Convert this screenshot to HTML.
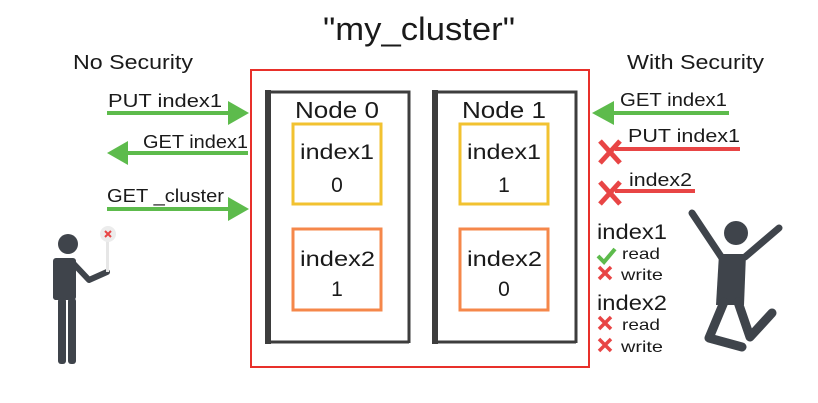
<!DOCTYPE html>
<html><head><style>
body{margin:0;background:#fff;}
svg{display:block;}
text{font-family:"Liberation Sans",sans-serif;fill:#1a1a1a;}
</style></head><body>
<svg width="818" height="403" viewBox="0 0 818 403" xmlns="http://www.w3.org/2000/svg">
<text x="323" y="40" font-size="32" textLength="192" lengthAdjust="spacingAndGlyphs">"my_cluster"</text>
<text x="73" y="69" font-size="20" textLength="120" lengthAdjust="spacingAndGlyphs">No Security</text>
<text x="627" y="69" font-size="20" textLength="137" lengthAdjust="spacingAndGlyphs">With Security</text>

<rect x="251" y="70" width="338" height="297" fill="none" stroke="#e8302a" stroke-width="2"/>
<!-- Node 0 -->
<path d="M268 92 H409 V343 M268 342 H409" fill="none" stroke="#3d3d3d" stroke-width="3"/>
<rect x="265" y="90" width="6" height="254" fill="#3d3d3d"/>
<text x="295" y="118" font-size="23" textLength="84" lengthAdjust="spacingAndGlyphs">Node 0</text>
<rect x="293" y="124" width="88" height="80" fill="none" stroke="#f2c230" stroke-width="3"/>
<text x="300" y="159" font-size="21" textLength="74" lengthAdjust="spacingAndGlyphs">index1</text>
<text x="337" y="192" font-size="21" text-anchor="middle">0</text>
<rect x="293" y="229" width="88" height="81" fill="none" stroke="#f5874a" stroke-width="3"/>
<text x="300" y="266" font-size="21" textLength="75" lengthAdjust="spacingAndGlyphs">index2</text>
<text x="337" y="296" font-size="21" text-anchor="middle">1</text>
<!-- Node 1 -->
<path d="M435 92 H576 V343 M435 342 H576" fill="none" stroke="#3d3d3d" stroke-width="3"/>
<rect x="432" y="90" width="6" height="254" fill="#3d3d3d"/>
<text x="462" y="118" font-size="23" textLength="84" lengthAdjust="spacingAndGlyphs">Node 1</text>
<rect x="460" y="124" width="88" height="80" fill="none" stroke="#f2c230" stroke-width="3"/>
<text x="467" y="159" font-size="21" textLength="74" lengthAdjust="spacingAndGlyphs">index1</text>
<text x="504" y="192" font-size="21" text-anchor="middle">1</text>
<rect x="460" y="229" width="88" height="81" fill="none" stroke="#f5874a" stroke-width="3"/>
<text x="467" y="266" font-size="21" textLength="75" lengthAdjust="spacingAndGlyphs">index2</text>
<text x="504" y="296" font-size="21" text-anchor="middle">0</text>

<g fill="#5dbb4c">
<rect x="107" y="111" width="125" height="4"/><polygon points="228,101 249,113 228,125"/>
<rect x="125" y="151" width="123" height="4"/><polygon points="128,141 107,153 128,165"/>
<rect x="107" y="207" width="125" height="4"/><polygon points="228,197 249,209 228,221"/>
<rect x="610" y="111" width="119" height="4"/><polygon points="614,101 592,113 614,125"/>
</g>
<text x="108" y="107" font-size="18" textLength="114" lengthAdjust="spacingAndGlyphs">PUT index1</text>
<text x="143" y="148" font-size="18" textLength="105" lengthAdjust="spacingAndGlyphs">GET index1</text>
<text x="107" y="202" font-size="18" textLength="117" lengthAdjust="spacingAndGlyphs">GET _cluster</text>
<text x="620" y="106" font-size="18" textLength="107" lengthAdjust="spacingAndGlyphs">GET index1</text>

<g fill="#e84545">
<rect x="615" y="147" width="125" height="4"/>
<rect x="615" y="189" width="80" height="4"/>
</g>
<g stroke="#e84545" stroke-width="5">
<path d="M600 141 L620 163 M620 141 L600 163"/>
<path d="M600 182 L620 204 M620 182 L600 204"/>
</g>
<text x="628" y="142" font-size="18" textLength="112" lengthAdjust="spacingAndGlyphs">PUT index1</text>
<text x="629" y="186" font-size="18" textLength="63" lengthAdjust="spacingAndGlyphs">index2</text>

<text x="597" y="239" font-size="21" textLength="70" lengthAdjust="spacingAndGlyphs">index1</text>
<path d="M598 256 L604 262 L615 249" fill="none" stroke="#5dbb4c" stroke-width="4"/>
<text x="622" y="259" font-size="16" textLength="38" lengthAdjust="spacingAndGlyphs">read</text>
<path d="M599 267 L611 279 M611 267 L599 279" stroke="#e84545" stroke-width="3.5"/>
<text x="621" y="280" font-size="16" textLength="42" lengthAdjust="spacingAndGlyphs">write</text>
<text x="597" y="310" font-size="21" textLength="70" lengthAdjust="spacingAndGlyphs">index2</text>
<path d="M599 317 L611 329 M611 317 L599 329" stroke="#e84545" stroke-width="3.5"/>
<text x="622" y="330" font-size="16" textLength="38" lengthAdjust="spacingAndGlyphs">read</text>
<path d="M599 339 L611 351 M611 339 L599 351" stroke="#e84545" stroke-width="3.5"/>
<text x="621" y="352" font-size="16" textLength="42" lengthAdjust="spacingAndGlyphs">write</text>

<g fill="#3f444b" stroke="#3f444b">
<circle cx="68" cy="244" r="10" stroke="none"/>
<rect x="53" y="258" width="23" height="42" rx="3" stroke="none"/>
<rect x="53" y="270" width="6" height="30" rx="3" stroke="none"/>
<rect x="58" y="298" width="8" height="66" rx="3" stroke="none"/>
<rect x="68" y="298" width="8" height="66" rx="3" stroke="none"/>
<path d="M72 262 L89 280 L107 272" fill="none" stroke-width="6" stroke-linecap="round" stroke-linejoin="round"/>
</g>
<rect x="106" y="238" width="3" height="34" fill="#e6e6e6"/>
<circle cx="108" cy="234" r="8" fill="#ececec"/>
<path d="M105 231 L111 237 M111 231 L105 237" stroke="#e84545" stroke-width="2"/>

<g fill="#3f444b" stroke="#3f444b" stroke-linecap="round" stroke-linejoin="round">
<circle cx="736" cy="233" r="12" stroke="none"/>
<path d="M692 213 L722 258 M779 228 L745 257" stroke-width="7" fill="none"/>
<polygon points="719,254 746,254 744,305 716,305" stroke="none"/>
<path d="M724 302 L709 338 L742 347 M738 302 L750 337 L772 313" stroke-width="9" fill="none"/>
</g>
</svg>
</body></html>
